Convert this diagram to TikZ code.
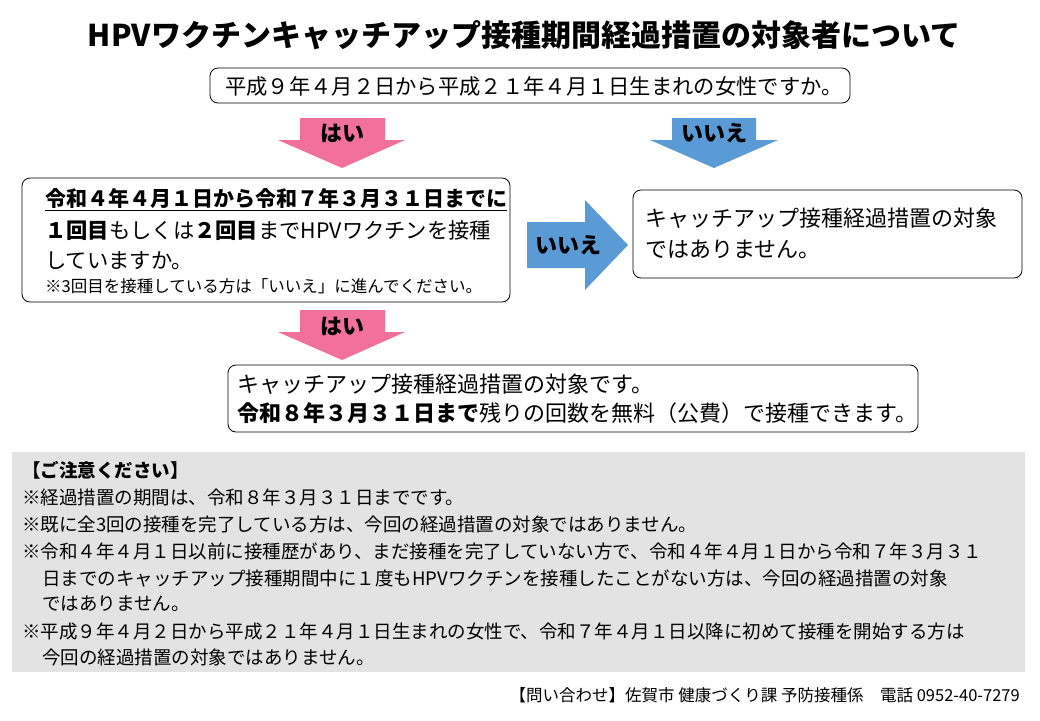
\documentclass[tikz,border=0pt]{standalone}
\usepackage{fontspec}
\setmainfont{Noto Sans CJK JP}
\usetikzlibrary{calc}
\definecolor{hai}{HTML}{F2709C}
\definecolor{iie}{HTML}{5B9BD5}
\definecolor{note}{HTML}{E3E3E3}
\tikzset{
  box/.style={draw, rounded corners=8pt, line width=0.8pt},
  txt/.style={anchor=west, inner sep=0pt, font=\fontsize{21.3}{24}\selectfont},
  small/.style={anchor=west, inner sep=0pt, font=\fontsize{16.5}{18}\selectfont},
  notes/.style={anchor=west, inner sep=0pt, font=\fontsize{18.5}{20}\selectfont},
  lbl/.style={inner sep=0pt, font=\bfseries\fontsize{22}{24}\selectfont},
}
\begin{document}
\begin{tikzpicture}[x=1pt,y=-1pt]
        \useasboundingbox (0,0) rectangle (1040,720);
        % title
        \node [lbl, font=\bfseries\fontsize{30}{32}\selectfont] (title) at (524,35) {HPVワクチンキャッチアップ接種期間経過措置の対象者について};

        % question 1
        \draw [box] (210,68) rectangle (850,103);
        \node [txt] (q1) at (225,86) {平成９年４月２日から平成２１年４月１日生まれの女性ですか。};

        % arrows from question 1
        \fill [hai] (300,118) -- (385,118) -- (385,140) -- (405,140) -- (342,168) -- (278,140) -- (300,140) -- cycle;
        \node [lbl] (hai1) at (342,133) {はい};
        \fill [iie] (672,118) -- (756,118) -- (756,140) -- (778,140) -- (714,168) -- (650,140) -- (672,140) -- cycle;
        \node [lbl] (iie1) at (714,133) {いいえ};

        % question 2
        \draw [box] (22,178) rectangle (510,302);
        \node [txt, font=\bfseries\fontsize{21}{24}\selectfont] (q2a) at (45,200) {\underline{令和４年４月１日から令和７年３月３１日までに}};
        \node [txt] (q2b) at (45,231) {\textbf{１回目}もしくは\textbf{２回目}までHPVワクチンを接種};
        \node [txt] (q2c) at (45,261) {していますか。};
        \node [small] (q2d) at (45,286) {※3回目を接種している方は「いいえ」に進んでください。};

        % no to question 2
        \fill [iie] (527,222) -- (585,222) -- (585,200) -- (628,245) -- (585,290) -- (585,268) -- (527,268) -- cycle;
        \node [lbl] (iie2) at (568,245) {いいえ};
        \draw [box] (633,190) rectangle (1022,278);
        \node [txt, font=\fontsize{22}{24}\selectfont] (no1) at (645,218) {キャッチアップ接種経過措置の対象};
        \node [txt, font=\fontsize{22}{24}\selectfont] (no2) at (645,249) {ではありません。};

        % yes to question 2
        \fill [hai] (300,310) -- (385,310) -- (385,332) -- (405,332) -- (342,360) -- (278,332) -- (300,332) -- cycle;
        \node [lbl] (hai2) at (342,326) {はい};
        \draw [box] (228,365) rectangle (918,432);
        \node [txt, font=\fontsize{22}{24}\selectfont] (yes1) at (237,384) {キャッチアップ接種経過措置の対象です。};
        \node [txt, font=\fontsize{22}{24}\selectfont] (yes2) at (237,413) {\textbf{令和８年３月３１日まで}残りの回数を無料（公費）で接種できます。};

        % notes
        \fill [note] (12,452) rectangle (1025,672);
        \node [notes, font=\bfseries\fontsize{18.5}{20}\selectfont] (n0) at (22,470) {【ご注意ください】};
        \node [notes] (n1) at (22,497) {※経過措置の期間は、令和８年３月３１日までです。};
        \node [notes] (n2) at (22,524) {※既に全3回の接種を完了している方は、今回の経過措置の対象ではありません。};
        \node [notes] (n3) at (22,551) {※令和４年４月１日以前に接種歴があり、まだ接種を完了していない方で、令和４年４月１日から令和７年３月３１};
        \node [notes] (n4) at (42,578) {日までのキャッチアップ接種期間中に１度もHPVワクチンを接種したことがない方は、今回の経過措置の対象};
        \node [notes] (n5) at (42,604) {ではありません。};
        \node [notes] (n6) at (22,631) {※平成９年４月２日から平成２１年４月１日生まれの女性で、令和７年４月１日以降に初めて接種を開始する方は};
        \node [notes] (n7) at (42,657) {今回の経過措置の対象ではありません。};

        % contact
        \node [small, anchor=east] (contact) at (1020,695) {【問い合わせ】佐賀市 健康づくり課 予防接種係　電話 0952-40-7279};
\end{tikzpicture}
\end{document}
